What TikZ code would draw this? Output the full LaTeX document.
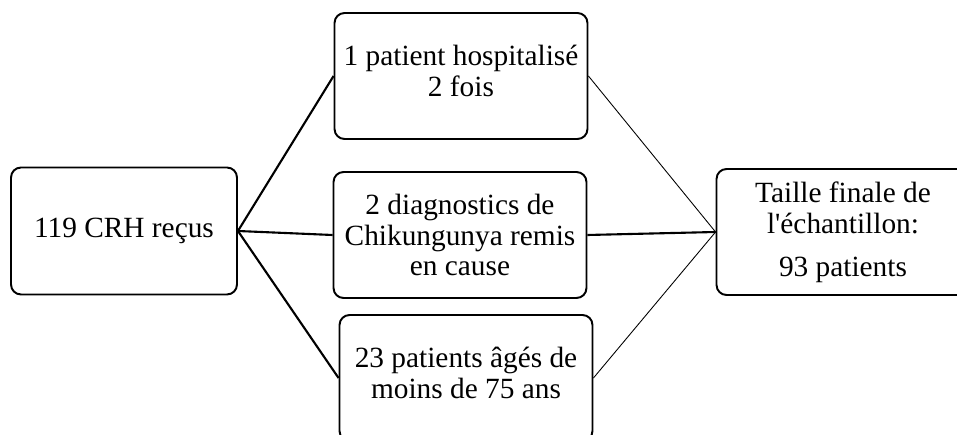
\documentclass[tikz,border=0pt]{standalone}
\usepackage{fontspec}
\setmainfont{Liberation Serif}

\begin{document}
\begin{tikzpicture}[x=0.02cm, y=-0.02cm,
    Box/.style={draw, line width=1.1pt, rounded corners=0.2cm, align=center,
        minimum width=5.06cm, minimum height=2.52cm, inner sep=0pt,
        font=\fontsize{16.7}{17.5}\selectfont},
    ThickLink/.style={line width=1.2pt},
    ThinLink/.style={line width=0.5pt}]

    % Fix the visible area of the picture
    \clip (0,0) rectangle (957,435);

    % Place the starting box on the left
    \node[Box, minimum width=4.52cm, minimum height=2.54cm] (Received) at (124,231) {119 CRH reçus};

    % Place the three exclusion boxes in the middle column
    \node[Box, text depth=0.2cm] (Twice) at (461,76) {1 patient hospitalisé\\2 fois};
    \node[Box] (Diagnosis) at (460,235) {2 diagnostics de\\Chikungunya remis\\en cause};
    \node[Box, text depth=0.2cm] (Age) at (466,378) {23 patients âgés de\\moins de 75 ans};

    % Place the final box on the right (cut off by the border)
    \node[Box] (Final) at (843,232) {Taille finale de\\l\textquotesingle échantillon:\\[7pt]93 patients};

    % Connect the starting box to the exclusion boxes
    \draw[ThickLink] (Received.east) -- (Twice.west);
    \draw[ThickLink] (Received.east) -- (Diagnosis.west);
    \draw[ThickLink] (Received.east) -- (Age.west);

    % Connect the exclusion boxes to the final box
    \draw[ThinLink] (Twice.east) -- (Final.west);
    \draw[ThickLink] (Diagnosis.east) -- (Final.west);
    \draw[ThinLink] (Age.east) -- (Final.west);

\end{tikzpicture}
\end{document}
